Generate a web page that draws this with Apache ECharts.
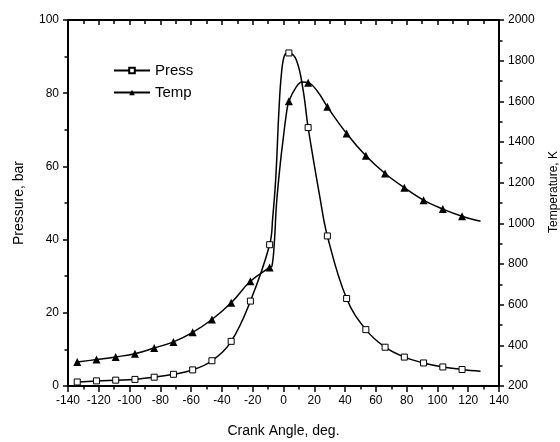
<!DOCTYPE html>
<html><head><meta charset="utf-8">
<script src="https://cdn.jsdelivr.net/npm/echarts@6/dist/echarts.min.js"></script>
<style>html,body{margin:0;padding:0;background:#fff}#c{width:560px;height:442px}</style>
</head><body><div id="c"></div>
<script>
// Crank angles (deg) where markers are drawn
const markerAngles = [-134, -121.5, -109, -96.5, -84, -71.5, -59, -46.5, -34, -21.5, -9, 3.5, 16, 28.5, 41, 53.5, 66, 78.5, 91, 103.5, 116];
// Pressure (bar) at the marker angles
const pressMarkers = [1.1, 1.4, 1.6, 1.8, 2.4, 3.2, 4.4, 6.9, 12.2, 23.2, 38.6, 91.0, 70.6, 41.0, 23.9, 15.4, 10.6, 7.9, 6.3, 5.2, 4.5];
// Temperature (K) at the marker angles
const tempMarkers = [318, 330, 343, 359, 387, 417, 464, 527, 609, 715, 783, 1600, 1692, 1573, 1442, 1332, 1245, 1175, 1114, 1070, 1035];
// Extra points (no marker drawn)
const pressCurveAngles = [-7, -5, -3, -1.3, 0.8, 8.4, 12.7, 23.6, 128];
const pressCurveValues = [46, 57, 75, 85.5, 90.5, 89, 81, 51.7, 4.0];
const tempCurveAngles = [-7.5, -6, -4.5, -2, -0.3, 1.9, 8.4, 12, 22, 128];
const tempCurveValues = [790, 900, 1100, 1300, 1409, 1541, 1672, 1695, 1650, 1010];

const seriesNames = ['Press', 'Temp'];
const pressTicks = {min: 0, max: 100, interval: 20};
const tempTicks = {min: 200, max: 2000, interval: 200};
const angleTicks = {min: -140, max: 140, interval: 20};

function buildData(angles, vals, extraA, extraV) {
  const pts = [];
  angles.forEach((a, i) => pts.push({value: [a, vals[i]]}));
  extraA.forEach((a, i) => pts.push({value: [a, extraV[i]], symbol: 'none'}));
  pts.sort((p, q) => p.value[0] - q.value[0]);
  return pts;
}

const FONT = '"Liberation Sans", Arial, sans-serif';
const axisLine = {show: true, onZero: false, lineStyle: {color: '#000', width: 2}};
const plain = v => String(v);

const chart = echarts.init(document.getElementById('c'), null, {renderer: 'canvas'});
chart.setOption({
  animation: false,
  backgroundColor: '#fff',
  grid: {left: 68, right: 61, top: 20, bottom: 56, containLabel: false, outerBoundsMode: 'none'},
  legend: {
    orient: 'vertical', left: 108, top: 58,
    itemWidth: 36, itemHeight: 7, itemGap: 7,
    textStyle: {fontFamily: FONT, fontSize: 15, color: '#000'},
    data: seriesNames
  },
  xAxis: [{
    type: 'value', min: angleTicks.min, max: angleTicks.max, interval: angleTicks.interval,
    position: 'bottom',
    name: 'Crank Angle, deg.', nameLocation: 'middle', nameGap: 38,
    nameTextStyle: {fontFamily: FONT, fontSize: 14, color: '#000'},
    axisLine: axisLine,
    axisTick: {show: true, inside: false, length: 6, lineStyle: {color: '#000', width: 1.5}},
    minorTick: {show: true, splitNumber: 2, length: 3.5, lineStyle: {color: '#000', width: 1.5}},
    axisLabel: {fontFamily: FONT, fontSize: 12, color: '#000', margin: 9, formatter: plain},
    splitLine: {show: false}
  }, {
    type: 'value', min: angleTicks.min, max: angleTicks.max, interval: angleTicks.interval,
    position: 'top',
    axisLine: axisLine,
    axisTick: {show: true, inside: true, length: 5, lineStyle: {color: '#000', width: 1.5}},
    minorTick: {show: true, splitNumber: 2, length: 4, lineStyle: {color: '#000', width: 1.5}},
    axisLabel: {show: false},
    splitLine: {show: false}
  }],
  yAxis: [{
    type: 'value', min: pressTicks.min, max: pressTicks.max, interval: pressTicks.interval,
    position: 'left',
    name: 'Pressure, bar', nameLocation: 'middle', nameGap: 42, nameRotate: 90,
    nameTextStyle: {fontFamily: FONT, fontSize: 14, color: '#000'},
    axisLine: axisLine,
    axisTick: {show: true, inside: false, length: 5, lineStyle: {color: '#000', width: 1.5}},
    minorTick: {show: true, splitNumber: 2, length: 3.5, lineStyle: {color: '#000', width: 1.5}},
    axisLabel: {fontFamily: FONT, fontSize: 12, color: '#000', margin: 9, formatter: plain},
    splitLine: {show: false}
  }, {
    type: 'value', min: tempTicks.min, max: tempTicks.max, interval: tempTicks.interval,
    position: 'right',
    name: 'Temperature, K', nameLocation: 'middle', nameGap: 49, nameRotate: 90,
    nameTextStyle: {fontFamily: FONT, fontSize: 12, color: '#000', padding: [0, 0, 0, 22]},
    axisLine: axisLine,
    axisTick: {show: true, inside: false, length: 5, lineStyle: {color: '#000', width: 1.5}},
    minorTick: {show: true, splitNumber: 2, length: 3.5, lineStyle: {color: '#000', width: 1.5}},
    axisLabel: {fontFamily: FONT, fontSize: 12, color: '#000', margin: 9, formatter: plain},
    splitLine: {show: false}
  }],
  series: [{
    name: seriesNames[0], type: 'line', xAxisIndex: 0, yAxisIndex: 0,
    data: buildData(markerAngles, pressMarkers, pressCurveAngles, pressCurveValues),
    smooth: 0.4,
    symbol: 'rect', symbolSize: 6, showSymbol: true,
    lineStyle: {color: '#000', width: 1.5},
    itemStyle: {color: '#fff', borderColor: '#000', borderWidth: 1},
    z: 3
  }, {
    name: seriesNames[1], type: 'line', xAxisIndex: 0, yAxisIndex: 1,
    data: buildData(markerAngles, tempMarkers, tempCurveAngles, tempCurveValues),
    smooth: 0.4,
    symbol: 'triangle', symbolSize: 8, showSymbol: true,
    lineStyle: {color: '#000', width: 1.5},
    itemStyle: {color: '#000'},
    z: 2
  }]
});
</script>
</body></html>
